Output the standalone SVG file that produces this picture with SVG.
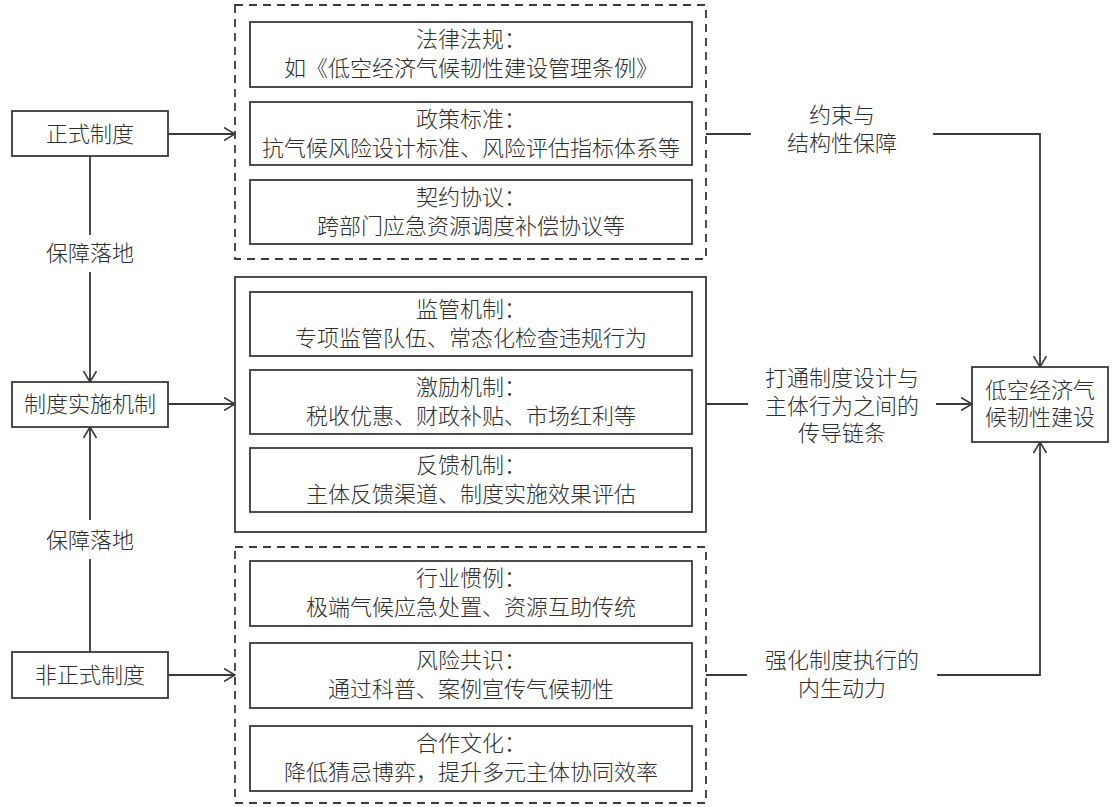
<svg xmlns="http://www.w3.org/2000/svg" width="1115" height="807" viewBox="0 0 1115 807">
<style>
.bg{fill:#fff}
.box{fill:#fff;stroke:#3a3a3a;stroke-width:1.8}
.dash{fill:none;stroke:#3a3a3a;stroke-width:1.8;stroke-dasharray:8 6}
.solid{fill:none;stroke:#3a3a3a;stroke-width:1.8}
.t{font-family:"Noto Sans CJK SC","Noto Sans",sans-serif;font-size:22px;fill:#2e2e2e;text-anchor:middle;font-weight:300}
.ln{fill:none;stroke:#3a3a3a;stroke-width:1.8}
</style>
<defs>
<marker id="ah" viewBox="0 0 12 14" refX="11.5" refY="7" markerWidth="12" markerHeight="14" markerUnits="userSpaceOnUse" orient="auto">
<path d="M0.5,0.5 L11.5,7 L0.5,13.5" fill="none" stroke="#3a3a3a" stroke-width="1.6"/>
</marker>
</defs>
<rect class="bg" x="0" y="0" width="1115" height="807"/>

<g id="connectors">
<line class="ln" x1="168" y1="134" x2="235" y2="134" marker-end="url(#ah)"/>
<line class="ln" x1="168" y1="404" x2="235" y2="404" marker-end="url(#ah)"/>
<line class="ln" x1="168" y1="675" x2="235" y2="675" marker-end="url(#ah)"/>
<line class="ln" x1="90" y1="156" x2="90" y2="235"/>
<line class="ln" x1="90" y1="272" x2="90" y2="382" marker-end="url(#ah)"/>
<line class="ln" x1="90" y1="652" x2="90" y2="559"/>
<line class="ln" x1="90" y1="520" x2="90" y2="427" marker-end="url(#ah)"/>
<line class="ln" x1="706" y1="134" x2="751" y2="134"/>
<polyline class="ln" points="933,134 1040,134 1040,367" marker-end="url(#ah)"/>
<line class="ln" x1="706" y1="404" x2="748" y2="404"/>
<line class="ln" x1="936" y1="404" x2="972" y2="404" marker-end="url(#ah)"/>
<line class="ln" x1="706" y1="675" x2="747" y2="675"/>
<polyline class="ln" points="937,675 1040,675 1040,442" marker-end="url(#ah)"/>
<text class="t" x="90" y="261">保障落地</text>
<text class="t" x="90" y="548">保障落地</text>
<text class="t" x="842" y="123">约束与</text>
<text class="t" x="842" y="151">结构性保障</text>
<text class="t" x="842" y="386">打通制度设计与</text>
<text class="t" x="842" y="414">主体行为之间的</text>
<text class="t" x="842" y="441">传导链条</text>
<text class="t" x="842" y="668">强化制度执行的</text>
<text class="t" x="842" y="696">内生动力</text>
</g>

<g id="formal">
<rect class="box" x="12" y="111" width="156" height="45"/>
<text class="t" x="90" y="141.5">正式制度</text>
</g>
<g id="mechanism">
<rect class="box" x="12" y="382" width="156" height="45"/>
<text class="t" x="90" y="412">制度实施机制</text>
</g>
<g id="informal">
<rect class="box" x="12" y="652" width="156" height="46"/>
<text class="t" x="90" y="683">非正式制度</text>
</g>
<g id="target">
<rect class="box" x="972" y="367" width="136" height="75"/>
<text class="t" x="1040" y="398">低空经济气</text>
<text class="t" x="1040" y="425">候韧性建设</text>
</g>

<g id="formal-group">
<rect class="dash" x="235" y="5" width="471" height="254"/>
<g id="law">
<rect class="box" x="250" y="22" width="442" height="65"/>
<text class="t" x="471" y="47">法律法规：</text>
<text class="t" x="471" y="76">如《低空经济气候韧性建设管理条例》</text>
</g>
<g id="policy">
<rect class="box" x="250" y="102" width="442" height="63"/>
<text class="t" x="471" y="126.5">政策标准：</text>
<text class="t" x="471" y="155.5">抗气候风险设计标准、风险评估指标体系等</text>
</g>
<g id="contract">
<rect class="box" x="250" y="180" width="442" height="64"/>
<text class="t" x="471" y="204.5">契约协议：</text>
<text class="t" x="471" y="233.5">跨部门应急资源调度补偿协议等</text>
</g>
</g>

<g id="mechanism-group">
<rect class="solid" x="235" y="277" width="471" height="255"/>
<g id="supervise">
<rect class="box" x="250" y="292" width="442" height="64"/>
<text class="t" x="471" y="316.5">监管机制：</text>
<text class="t" x="471" y="345.5">专项监管队伍、常态化检查违规行为</text>
</g>
<g id="incentive">
<rect class="box" x="250" y="370" width="442" height="64"/>
<text class="t" x="471" y="394.5">激励机制：</text>
<text class="t" x="471" y="423.5">税收优惠、财政补贴、市场红利等</text>
</g>
<g id="feedback">
<rect class="box" x="250" y="448" width="442" height="64"/>
<text class="t" x="471" y="472.5">反馈机制：</text>
<text class="t" x="471" y="501.5">主体反馈渠道、制度实施效果评估</text>
</g>
</g>

<g id="informal-group">
<rect class="dash" x="235" y="547" width="471" height="256"/>
<g id="practice">
<rect class="box" x="250" y="561" width="442" height="65"/>
<text class="t" x="471" y="585.5">行业惯例：</text>
<text class="t" x="471" y="614.5">极端气候应急处置、资源互助传统</text>
</g>
<g id="consensus">
<rect class="box" x="250" y="643" width="442" height="65"/>
<text class="t" x="471" y="667.5">风险共识：</text>
<text class="t" x="471" y="696.5">通过科普、案例宣传气候韧性</text>
</g>
<g id="culture">
<rect class="box" x="250" y="726" width="442" height="65"/>
<text class="t" x="471" y="750.5">合作文化：</text>
<text class="t" x="471" y="779.5">降低猜忌博弈，提升多元主体协同效率</text>
</g>
</g>
</svg>
